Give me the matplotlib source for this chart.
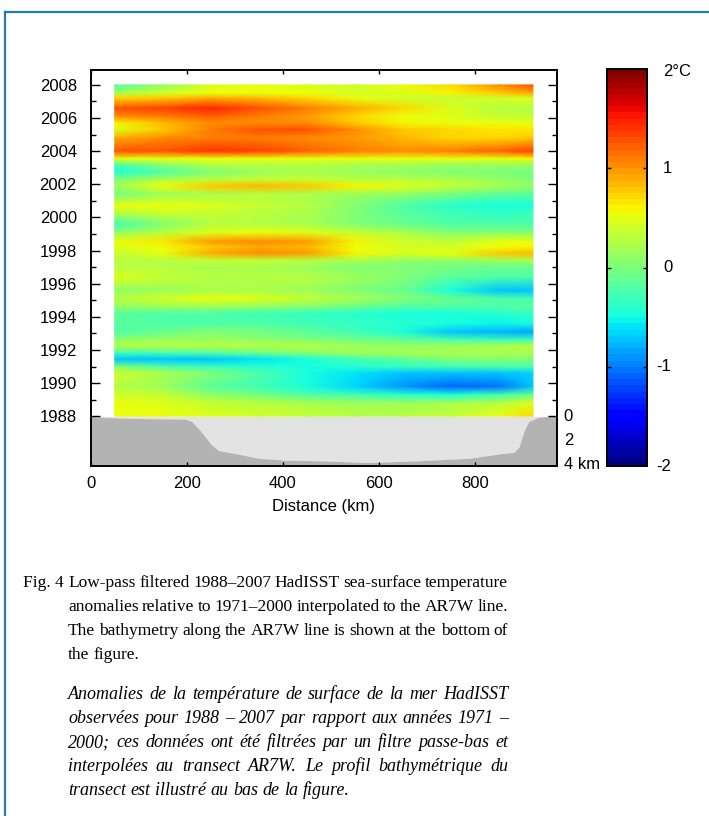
import numpy as np
import matplotlib
matplotlib.use('Agg')
import matplotlib.pyplot as plt
from matplotlib.lines import Line2D
from matplotlib.cm import ScalarMappable
from matplotlib.colors import Normalize
from matplotlib.ticker import FixedLocator
from matplotlib.transforms import blended_transform_factory

plt.rcParams['font.family'] = 'Liberation Sans'

# Along-line distance of the SST columns (km)
distance_km = [50, 150, 250, 350, 450, 550, 650, 750, 850, 920]

# Row times (decimal year) and low-pass SST anomalies (deg C), top to bottom
years = [2008.0, 2007.5, 2007.2, 2006.6, 2006.1, 2005.7, 2005.3, 2004.8, 2004.0,
         2003.55, 2003.2, 2002.75, 2002.3, 2001.9, 2001.4, 2000.7, 2000.2, 1999.6,
         1999.1, 1998.55, 1998.2, 1997.85, 1997.4, 1997.0, 1996.4, 1995.6, 1995.1,
         1994.6, 1994.2, 1993.6, 1993.1, 1992.6, 1992.25, 1991.8, 1991.45, 1991.0,
         1990.6, 1989.8, 1989.3, 1988.8, 1988.0]
sst_anom = [
    [-0.25, 0.10, 0.45, 0.50, 0.45, 0.40, 0.50, 0.70, 1.00, 1.25],
    [0.20, 0.40, 0.50, 0.55, 0.50, 0.40, 0.45, 0.60, 0.75, 0.90],
    [0.70, 0.80, 0.90, 0.85, 0.70, 0.50, 0.40, 0.35, 0.40, 0.45],
    [1.30, 1.35, 1.45, 1.30, 1.10, 0.90, 0.70, 0.45, 0.30, 0.30],
    [1.00, 1.10, 1.20, 1.10, 0.95, 0.70, 0.55, 0.45, 0.35, 0.35],
    [0.60, 0.85, 1.00, 1.05, 1.00, 0.80, 0.60, 0.55, 0.50, 0.50],
    [0.45, 0.80, 1.10, 1.25, 1.25, 1.00, 0.80, 0.70, 0.65, 0.65],
    [0.90, 1.00, 1.10, 1.10, 1.00, 0.95, 0.85, 0.70, 0.70, 0.80],
    [1.25, 1.30, 1.40, 1.35, 1.20, 1.10, 1.05, 1.10, 1.20, 1.35],
    [0.50, 0.50, 0.55, 0.55, 0.55, 0.50, 0.50, 0.50, 0.55, 0.60],
    [-0.20, 0.10, 0.30, 0.30, 0.30, 0.20, 0.20, 0.15, 0.15, 0.15],
    [-0.45, -0.20, 0.00, 0.15, 0.20, 0.15, 0.10, 0.05, 0.00, -0.05],
    [0.00, 0.20, 0.30, 0.35, 0.35, 0.30, 0.30, 0.20, 0.10, 0.05],
    [0.15, 0.50, 0.75, 0.85, 0.80, 0.60, 0.45, 0.35, 0.20, 0.10],
    [-0.05, 0.15, 0.20, 0.25, 0.20, 0.15, 0.10, -0.05, -0.15, -0.15],
    [0.55, 0.50, 0.45, 0.35, 0.25, 0.05, -0.20, -0.40, -0.50, -0.45],
    [0.20, 0.35, 0.35, 0.30, 0.20, 0.00, -0.15, -0.30, -0.35, -0.30],
    [-0.30, 0.00, 0.25, 0.30, 0.20, 0.05, -0.10, -0.25, -0.25, -0.20],
    [0.10, 0.30, 0.45, 0.50, 0.45, 0.35, 0.20, 0.05, 0.00, 0.00],
    [0.50, 0.65, 0.95, 1.05, 0.95, 0.60, 0.40, 0.35, 0.50, 0.50],
    [0.45, 0.55, 0.80, 0.90, 0.85, 0.55, 0.40, 0.40, 0.55, 0.60],
    [0.35, 0.50, 0.90, 1.00, 0.95, 0.60, 0.45, 0.55, 0.80, 0.85],
    [0.25, 0.30, 0.35, 0.35, 0.30, 0.20, 0.10, 0.10, 0.15, 0.20],
    [0.30, 0.25, 0.20, 0.20, 0.15, 0.05, 0.00, -0.05, -0.10, -0.10],
    [0.45, 0.35, 0.30, 0.30, 0.25, 0.15, 0.00, -0.15, -0.25, -0.25],
    [0.10, 0.15, 0.20, 0.20, 0.15, 0.05, -0.10, -0.50, -0.75, -0.75],
    [0.30, 0.40, 0.50, 0.45, 0.35, 0.20, 0.05, -0.10, -0.25, -0.30],
    [0.10, 0.15, 0.15, 0.10, 0.00, -0.10, -0.20, -0.25, -0.20, -0.15],
    [-0.15, -0.20, -0.25, -0.30, -0.35, -0.40, -0.45, -0.45, -0.40, -0.35],
    [-0.15, -0.20, -0.20, -0.25, -0.30, -0.35, -0.40, -0.50, -0.55, -0.50],
    [-0.20, -0.10, 0.00, -0.05, -0.15, -0.30, -0.45, -0.70, -0.80, -0.85],
    [0.10, 0.15, 0.15, 0.10, 0.05, -0.05, -0.10, -0.25, -0.30, -0.30],
    [0.25, 0.25, 0.25, 0.25, 0.25, 0.15, 0.10, 0.15, 0.20, 0.25],
    [-0.35, -0.30, -0.25, -0.10, 0.05, 0.15, 0.20, 0.20, 0.20, 0.20],
    [-0.75, -0.75, -0.70, -0.60, -0.45, -0.30, -0.15, 0.00, 0.00, 0.05],
    [0.00, -0.20, -0.35, -0.40, -0.45, -0.40, -0.35, -0.30, -0.25, -0.20],
    [0.40, 0.20, 0.00, -0.20, -0.45, -0.60, -0.70, -0.70, -0.70, -0.65],
    [0.30, 0.15, -0.15, -0.30, -0.45, -0.65, -0.90, -1.10, -1.05, -0.75],
    [0.40, 0.35, 0.10, -0.05, -0.20, -0.30, -0.40, -0.45, -0.30, -0.10],
    [0.50, 0.45, 0.35, 0.30, 0.20, 0.15, 0.15, 0.20, 0.30, 0.45],
    [0.50, 0.55, 0.45, 0.40, 0.35, 0.30, 0.30, 0.35, 0.55, 0.70],
]

# Bathymetry along AR7W (distance km, depth km)
bath_x = [0, 30, 60, 120, 196, 210, 224, 238, 252, 266, 301, 350, 405, 474,
          578, 682, 786, 856, 880, 891, 901, 911, 932, 953, 970]
bath_depth = [0.0, 0.1, 0.14, 0.2, 0.23, 0.43, 1.0, 1.7, 2.4, 2.85, 3.1, 3.5,
              3.65, 3.7, 3.85, 3.7, 3.5, 3.1, 3.0, 2.55, 1.28, 0.43, 0.08, 0.0, 0.0]

depth_ticks = [0, 2, 4]
year_ticks = list(range(1988, 2009, 2))
cbar_ticks = [2, 1, 0, -1, -2]
cbar_labels = ['2\u00b0C', '1', '0', '-1', '-2']

en_caption = [
    "Low-pass filtered 1988\u20132007 HadISST sea-surface temperature",
    "anomalies relative to 1971\u20132000 interpolated to the AR7W line.",
    "The bathymetry along the AR7W line is shown at the bottom of",
    "the figure.",
]
fr_caption = [
    "Anomalies de la temp\u00e9rature de surface de la mer HadISST",
    "observ\u00e9es pour 1988 \u2013 2007 par rapport aux ann\u00e9es 1971 \u2013",
    "2000; ces donn\u00e9es ont \u00e9t\u00e9 filtr\u00e9es par un filtre passe-bas et",
    "interpol\u00e9es au transect AR7W. Le profil bathym\u00e9trique du",
    "transect est illustr\u00e9 au bas de la figure.",
]

W, H = 709, 816
YEAR_PER_KM = 0.725  # vertical scale of the bathymetry strip below 1988


def fx(px):
    return px / W


def fy(py):
    return 1 - py / H


def justified(fig, lines, x0, x1, y0, dy, **kw):
    """Place words so every line but the last spans x0..x1 (pixels)."""
    renderer = fig.canvas.get_renderer()
    for i, line in enumerate(lines):
        words = line.split()
        texts = [fig.text(0, 0, w, va='baseline', ha='left', **kw) for w in words]
        widths = [t.get_window_extent(renderer).width for t in texts]
        if i == len(lines) - 1 or len(words) == 1:
            sp = fig.text(0, 0, 'a a', **kw)
            sp2 = fig.text(0, 0, 'aa', **kw)
            gap = sp.get_window_extent(renderer).width - sp2.get_window_extent(renderer).width
            sp.remove()
            sp2.remove()
        else:
            gap = (x1 - x0 - sum(widths)) / (len(words) - 1)
        x = x0
        for t, w in zip(texts, widths):
            t.set_position((fx(x), fy(y0 + i * dy)))
            x += w + gap


fig = plt.figure(figsize=(W / 100, H / 100), dpi=100)
jet64 = plt.get_cmap('jet', 64)

# main panel
ax = fig.add_axes([fx(90.7), fy(466), (557 - 90.7) / W, (466 - 70) / H])
X, Y = np.meshgrid(distance_km, years)
ax.pcolormesh(X, Y, np.array(sst_anom), shading='gouraud', cmap=jet64,
              vmin=-2, vmax=2, rasterized=True)

floor_y = 1988 - YEAR_PER_KM * np.array(bath_depth)
ax.fill_between(bath_x, 1988, floor_y, color='#e3e3e3', lw=0)
ax.fill_between(bath_x, floor_y, 1984, color='#b3b3b3', lw=0)

ax.set_xlim(0, 970)
ax.set_ylim(1985, 2008.9)
ax.set_xticks([0, 200, 400, 600, 800])
ax.set_yticks(year_ticks)
ax.yaxis.set_minor_locator(FixedLocator(list(range(1989, 2008, 2))))
ax.tick_params(axis='x', direction='in', length=3, width=1, top=True,
               labelsize=12, pad=7)
ax.tick_params(axis='y', which='major', direction='in', length=6.5, width=1,
               right=True, labelsize=12, pad=10)
ax.tick_params(axis='y', which='minor', direction='in', length=3.5, width=1,
               right=True)
for s in ax.spines.values():
    s.set_linewidth(1.4)
ax.set_xlabel('Distance (km)', fontsize=12, labelpad=6)

for d in depth_ticks:
    lab = f'{d} km' if d == depth_ticks[-1] else f'{d}'
    ax.text(984, 1988 - YEAR_PER_KM * d, lab, fontsize=12, ha='left',
            va='center', clip_on=False)

# colour bar
cax = fig.add_axes([fx(606.7), fy(466), (647 - 606.7) / W, (466 - 69) / H])
cb = fig.colorbar(ScalarMappable(norm=Normalize(-2, 2), cmap=jet64), cax=cax,
                  ticks=[-1, 0, 1])
cb.outline.set_linewidth(1.4)
cax.tick_params(direction='in', length=3, width=1, left=True, right=True,
                labelright=False)
tr = blended_transform_factory(cax.transAxes, cax.transData)
for v, lab in zip(cbar_ticks, cbar_labels):
    xa = 1.22 if lab.startswith('-') else 1.40
    yv = v - 0.03 if v == 2 else v
    cax.text(xa, yv, lab, transform=tr, fontsize=12, ha='left', va='center')

# caption
fig.text(fx(23), fy(587), 'Fig. 4', family='Liberation Serif', fontsize=12.5,
         va='baseline', ha='left')
justified(fig, en_caption, 68, 508, 587, 24, family='Liberation Serif',
          fontsize=12.5)
justified(fig, fr_caption, 68, 508, 699, 24, family='Liberation Serif',
          fontsize=13, style='italic')

# page frame (top and left rules)
frame = '#2479b8'
fig.add_artist(Line2D([fx(5), 1], [fy(12), fy(12)], color=frame, lw=1.6))
fig.add_artist(Line2D([fx(5), fx(5)], [fy(12), 0], color=frame, lw=1.6))

fig.savefig('out.png', dpi=100)
